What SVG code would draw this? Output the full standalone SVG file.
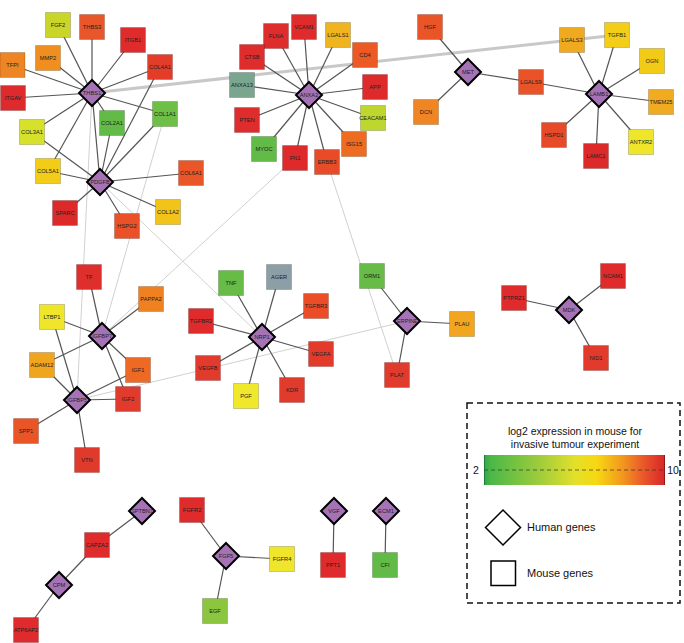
<svg xmlns="http://www.w3.org/2000/svg" xmlns:xlink="http://www.w3.org/1999/xlink" width="684" height="643" viewBox="0 0 684 643">
<style>
.e{stroke:#555;stroke-width:1.2}
.l{stroke:#d0d0d0;stroke-width:1}
.t{stroke:#c8c8c8;stroke-width:3}
.m rect{stroke:rgba(0,0,0,0.18);stroke-width:1}
.h use{fill:#a573b5;stroke:#000;stroke-width:2}
text{font-family:"Liberation Sans",Arial,sans-serif;font-size:5.7px;text-anchor:middle;fill:#222}
.lg{font-size:10.5px;fill:#111}
.ll{font-size:11px;text-anchor:start;fill:#111}
</style>
<defs>
<path id="dia" d="M0,-13L13,0L0,13L-13,0Z"/>
<clipPath id="dc"><rect x="-9.6" y="-13" width="19.2" height="26"/></clipPath>
<linearGradient id="grad" x1="0" y1="0" x2="1" y2="0">
<stop offset="0" stop-color="#2fa84a"/>
<stop offset="0.04" stop-color="#4cb847"/>
<stop offset="0.3" stop-color="#9ccc3c"/>
<stop offset="0.5" stop-color="#e2e02a"/>
<stop offset="0.62" stop-color="#f7d812"/>
<stop offset="0.76" stop-color="#f39a1e"/>
<stop offset="0.88" stop-color="#e9582a"/>
<stop offset="1" stop-color="#d9252a"/>
</linearGradient>
</defs>
<rect width="684" height="643" fill="#fff"/>
<g id="connectors">
<line class="l" x1="92" y1="93" x2="77" y2="400"/>
<line class="l" x1="165" y1="114" x2="102" y2="336"/>
<line class="l" x1="100" y1="182" x2="262" y2="337"/>
<line class="l" x1="295" y1="158" x2="102" y2="336"/>
<line class="l" x1="327" y1="162" x2="397" y2="375"/>
<line class="l" x1="77" y1="400" x2="407" y2="321"/>
<line class="t" x1="92" y1="93" x2="617" y2="35"/>
<line class="e" x1="92" y1="93" x2="58" y2="25"/>
<line class="e" x1="92" y1="93" x2="92" y2="27"/>
<line class="e" x1="92" y1="93" x2="133" y2="40"/>
<line class="e" x1="92" y1="93" x2="48" y2="58"/>
<line class="e" x1="92" y1="93" x2="12" y2="65"/>
<line class="e" x1="92" y1="93" x2="160" y2="67"/>
<line class="e" x1="92" y1="93" x2="13" y2="98"/>
<line class="e" x1="92" y1="93" x2="112" y2="123"/>
<line class="e" x1="92" y1="93" x2="165" y2="114"/>
<line class="e" x1="92" y1="93" x2="32" y2="132"/>
<line class="e" x1="92" y1="93" x2="48" y2="171"/>
<line class="e" x1="92" y1="93" x2="100" y2="182"/>
<line class="e" x1="100" y1="182" x2="32" y2="132"/>
<line class="e" x1="100" y1="182" x2="48" y2="171"/>
<line class="e" x1="100" y1="182" x2="112" y2="123"/>
<line class="e" x1="100" y1="182" x2="165" y2="114"/>
<line class="e" x1="100" y1="182" x2="160" y2="67"/>
<line class="e" x1="100" y1="182" x2="191" y2="173"/>
<line class="e" x1="100" y1="182" x2="65" y2="213"/>
<line class="e" x1="100" y1="182" x2="168" y2="212"/>
<line class="e" x1="100" y1="182" x2="127" y2="226"/>
<line class="e" x1="309" y1="95" x2="304" y2="27"/>
<line class="e" x1="309" y1="95" x2="276" y2="36"/>
<line class="e" x1="309" y1="95" x2="338" y2="35"/>
<line class="e" x1="309" y1="95" x2="252" y2="57"/>
<line class="e" x1="309" y1="95" x2="365" y2="55"/>
<line class="e" x1="309" y1="95" x2="242" y2="85"/>
<line class="e" x1="309" y1="95" x2="375" y2="87"/>
<line class="e" x1="309" y1="95" x2="247" y2="120"/>
<line class="e" x1="309" y1="95" x2="373" y2="118"/>
<line class="e" x1="309" y1="95" x2="264" y2="149"/>
<line class="e" x1="309" y1="95" x2="354" y2="144"/>
<line class="e" x1="309" y1="95" x2="295" y2="158"/>
<line class="e" x1="309" y1="95" x2="327" y2="162"/>
<line class="e" x1="468" y1="72" x2="430" y2="27"/>
<line class="e" x1="468" y1="72" x2="426" y2="112"/>
<line class="e" x1="468" y1="72" x2="531" y2="82"/>
<line class="e" x1="599" y1="94" x2="531" y2="82"/>
<line class="e" x1="599" y1="94" x2="572" y2="40"/>
<line class="e" x1="599" y1="94" x2="617" y2="35"/>
<line class="e" x1="599" y1="94" x2="652" y2="61"/>
<line class="e" x1="599" y1="94" x2="661" y2="102"/>
<line class="e" x1="599" y1="94" x2="641" y2="142"/>
<line class="e" x1="599" y1="94" x2="554" y2="135"/>
<line class="e" x1="599" y1="94" x2="596" y2="156"/>
<line class="e" x1="102" y1="336" x2="89" y2="277"/>
<line class="e" x1="102" y1="336" x2="151" y2="299"/>
<line class="e" x1="102" y1="336" x2="52" y2="317"/>
<line class="e" x1="102" y1="336" x2="42" y2="365"/>
<line class="e" x1="102" y1="336" x2="138" y2="370"/>
<line class="e" x1="102" y1="336" x2="128" y2="399"/>
<line class="e" x1="77" y1="400" x2="52" y2="317"/>
<line class="e" x1="77" y1="400" x2="42" y2="365"/>
<line class="e" x1="77" y1="400" x2="138" y2="370"/>
<line class="e" x1="77" y1="400" x2="128" y2="399"/>
<line class="e" x1="77" y1="400" x2="26" y2="431"/>
<line class="e" x1="77" y1="400" x2="87" y2="460"/>
<line class="e" x1="262" y1="337" x2="231" y2="283"/>
<line class="e" x1="262" y1="337" x2="279" y2="277"/>
<line class="e" x1="262" y1="337" x2="316" y2="306"/>
<line class="e" x1="262" y1="337" x2="201" y2="321"/>
<line class="e" x1="262" y1="337" x2="321" y2="354"/>
<line class="e" x1="262" y1="337" x2="208" y2="368"/>
<line class="e" x1="262" y1="337" x2="246" y2="396"/>
<line class="e" x1="262" y1="337" x2="292" y2="390"/>
<line class="e" x1="407" y1="321" x2="372" y2="276"/>
<line class="e" x1="407" y1="321" x2="462" y2="324"/>
<line class="e" x1="407" y1="321" x2="397" y2="375"/>
<line class="e" x1="569" y1="310" x2="514" y2="298"/>
<line class="e" x1="569" y1="310" x2="613" y2="276"/>
<line class="e" x1="569" y1="310" x2="596" y2="358"/>
<line class="e" x1="142" y1="511" x2="97" y2="545"/>
<line class="e" x1="59" y1="585" x2="97" y2="545"/>
<line class="e" x1="59" y1="585" x2="26" y2="630"/>
<line class="e" x1="226" y1="556" x2="192" y2="510"/>
<line class="e" x1="226" y1="556" x2="282" y2="559"/>
<line class="e" x1="226" y1="556" x2="215" y2="611"/>
<line class="e" x1="334" y1="511" x2="333" y2="565"/>
<line class="e" x1="386" y1="511" x2="385" y2="565"/>
</g>
<g id="mouse-nodes" class="m">
<g id="n-FGF2"><rect x="45.5" y="12.5" width="25" height="25" fill="#c9d629"/><text x="58" y="27">FGF2</text></g>
<g id="n-THBS3"><rect x="79.5" y="14.5" width="25" height="25" fill="#e85629"/><text x="92" y="29">THBS3</text></g>
<g id="n-ITGB1"><rect x="120.5" y="27.5" width="25" height="25" fill="#df2b2b"/><text x="133" y="42">ITGB1</text></g>
<g id="n-MMP2"><rect x="35.5" y="45.5" width="25" height="25" fill="#f08f1f"/><text x="48" y="60">MMP2</text></g>
<g id="n-TFPI"><rect x="0" y="52.5" width="25" height="25" fill="#ee8525"/><text x="12.5" y="67">TFPI</text></g>
<g id="n-COL4A1"><rect x="147.5" y="54.5" width="25" height="25" fill="#e33d2a"/><text x="160" y="69">COL4A1</text></g>
<g id="n-ITGAV"><rect x="0.5" y="85.5" width="25" height="25" fill="#dc2a2d"/><text x="13" y="100">ITGAV</text></g>
<g id="n-COL2A1"><rect x="99.5" y="110.5" width="25" height="25" fill="#62bb46"/><text x="112" y="125">COL2A1</text></g>
<g id="n-COL1A1"><rect x="152.5" y="101.5" width="25" height="25" fill="#6dbf45"/><text x="165" y="116">COL1A1</text></g>
<g id="n-COL3A1"><rect x="19.5" y="119.5" width="25" height="25" fill="#d6e12b"/><text x="32" y="134">COL3A1</text></g>
<g id="n-COL5A1"><rect x="35.5" y="158.5" width="25" height="25" fill="#f3cc18"/><text x="48" y="173">COL5A1</text></g>
<g id="n-COL6A1"><rect x="178.5" y="160.5" width="25" height="25" fill="#ea5627"/><text x="191" y="175">COL6A1</text></g>
<g id="n-SPARC"><rect x="52.5" y="200.5" width="25" height="25" fill="#dc2a2b"/><text x="65" y="215">SPARC</text></g>
<g id="n-COL1A2"><rect x="155.5" y="199.5" width="25" height="25" fill="#f2c319"/><text x="168" y="214">COL1A2</text></g>
<g id="n-HSPG2"><rect x="114.5" y="213.5" width="25" height="25" fill="#ea5128"/><text x="127" y="228">HSPG2</text></g>
<g id="n-VCAM1"><rect x="291.5" y="14.5" width="25" height="25" fill="#df2b2b"/><text x="304" y="29">VCAM1</text></g>
<g id="n-FLNA"><rect x="263.5" y="23.5" width="25" height="25" fill="#df2c2c"/><text x="276" y="38">FLNA</text></g>
<g id="n-LGALS1"><rect x="325.5" y="22.5" width="25" height="25" fill="#f0b51e"/><text x="338" y="37">LGALS1</text></g>
<g id="n-CTSB"><rect x="239.5" y="44.5" width="25" height="25" fill="#df2c2c"/><text x="252" y="59">CTSB</text></g>
<g id="n-CD4"><rect x="352.5" y="42.5" width="25" height="25" fill="#ec5925"/><text x="365" y="57">CD4</text></g>
<g id="n-ANXA13"><rect x="229.5" y="72.5" width="25" height="25" fill="#7aa68f"/><text x="242" y="87">ANXA13</text></g>
<g id="n-APP"><rect x="362.5" y="74.5" width="25" height="25" fill="#df2a2b"/><text x="375" y="89">APP</text></g>
<g id="n-PTEN"><rect x="234.5" y="107.5" width="25" height="25" fill="#df2c2c"/><text x="247" y="122">PTEN</text></g>
<g id="n-CEACAM1"><rect x="360.5" y="105.5" width="25" height="25" fill="#bdd72e"/><text x="373" y="120">CEACAM1</text></g>
<g id="n-MYOC"><rect x="251.5" y="136.5" width="25" height="25" fill="#62bb46"/><text x="264" y="151">MYOC</text></g>
<g id="n-ISG15"><rect x="341.5" y="131.5" width="25" height="25" fill="#ee6b22"/><text x="354" y="146">ISG15</text></g>
<g id="n-FN1"><rect x="282.5" y="145.5" width="25" height="25" fill="#df2a2b"/><text x="295" y="160">FN1</text></g>
<g id="n-ERBB3"><rect x="314.5" y="149.5" width="25" height="25" fill="#e84b28"/><text x="327" y="164">ERBB3</text></g>
<g id="n-HGF"><rect x="417.5" y="14.5" width="25" height="25" fill="#ea5528"/><text x="430" y="29">HGF</text></g>
<g id="n-DCN"><rect x="413.5" y="99.5" width="25" height="25" fill="#f08523"/><text x="426" y="114">DCN</text></g>
<g id="n-LGALS9"><rect x="518.5" y="69.5" width="25" height="25" fill="#ea5328"/><text x="531" y="84">LGALS9</text></g>
<g id="n-LGALS3"><rect x="559.5" y="27.5" width="25" height="25" fill="#f0aa20"/><text x="572" y="42">LGALS3</text></g>
<g id="n-TGFB1"><rect x="604.5" y="22.5" width="25" height="25" fill="#f3cd17"/><text x="617" y="37">TGFB1</text></g>
<g id="n-OGN"><rect x="639.5" y="48.5" width="25" height="25" fill="#f2cb16"/><text x="652" y="63">OGN</text></g>
<g id="n-TMEM25"><rect x="648.5" y="89.5" width="25" height="25" fill="#f0ab21"/><text x="661" y="104">TMEM25</text></g>
<g id="n-ANTXR2"><rect x="628.5" y="129.5" width="25" height="25" fill="#efe52b"/><text x="641" y="144">ANTXR2</text></g>
<g id="n-HSPD1"><rect x="541.5" y="122.5" width="25" height="25" fill="#e64a28"/><text x="554" y="137">HSPD1</text></g>
<g id="n-LAMC1"><rect x="583.5" y="143.5" width="25" height="25" fill="#dc2a2b"/><text x="596" y="158">LAMC1</text></g>
<g id="n-TF"><rect x="76.5" y="264.5" width="25" height="25" fill="#df2f2c"/><text x="89" y="279">TF</text></g>
<g id="n-PAPPA2"><rect x="138.5" y="286.5" width="25" height="25" fill="#f08121"/><text x="151" y="301">PAPPA2</text></g>
<g id="n-LTBP1"><rect x="39.5" y="304.5" width="25" height="25" fill="#efe52b"/><text x="52" y="319">LTBP1</text></g>
<g id="n-ADAM12"><rect x="29.5" y="352.5" width="25" height="25" fill="#f0a51f"/><text x="42" y="367">ADAM12</text></g>
<g id="n-IGF1"><rect x="125.5" y="357.5" width="25" height="25" fill="#ee6923"/><text x="138" y="372">IGF1</text></g>
<g id="n-IGF2"><rect x="115.5" y="386.5" width="25" height="25" fill="#e03b2c"/><text x="128" y="401">IGF2</text></g>
<g id="n-SPP1"><rect x="13.5" y="418.5" width="25" height="25" fill="#ea5528"/><text x="26" y="433">SPP1</text></g>
<g id="n-VTN"><rect x="74.5" y="447.5" width="25" height="25" fill="#e03a2c"/><text x="87" y="462">VTN</text></g>
<g id="n-TNF"><rect x="218.5" y="270.5" width="25" height="25" fill="#66bc46"/><text x="231" y="285">TNF</text></g>
<g id="n-AGER"><rect x="266.5" y="264.5" width="25" height="25" fill="#8c9fa7"/><text x="279" y="279">AGER</text></g>
<g id="n-TGFBR3"><rect x="303.5" y="293.5" width="25" height="25" fill="#ea4d28"/><text x="316" y="308">TGFBR3</text></g>
<g id="n-TGFBR2"><rect x="188.5" y="308.5" width="25" height="25" fill="#df2b2b"/><text x="201" y="323">TGFBR2</text></g>
<g id="n-VEGFA"><rect x="308.5" y="341.5" width="25" height="25" fill="#e23b2b"/><text x="321" y="356">VEGFA</text></g>
<g id="n-VEGFB"><rect x="195.5" y="355.5" width="25" height="25" fill="#e03b2c"/><text x="208" y="370">VEGFB</text></g>
<g id="n-PGF"><rect x="233.5" y="383.5" width="25" height="25" fill="#f0e82a"/><text x="246" y="398">PGF</text></g>
<g id="n-KDR"><rect x="279.5" y="377.5" width="25" height="25" fill="#e03b2c"/><text x="292" y="392">KDR</text></g>
<g id="n-ORM1"><rect x="359.5" y="263.5" width="25" height="25" fill="#66bc46"/><text x="372" y="278">ORM1</text></g>
<g id="n-PLAU"><rect x="449.5" y="311.5" width="25" height="25" fill="#f2a51e"/><text x="462" y="326">PLAU</text></g>
<g id="n-PLAT"><rect x="384.5" y="362.5" width="25" height="25" fill="#e03b2c"/><text x="397" y="377">PLAT</text></g>
<g id="n-PTPRZ1"><rect x="501.5" y="285.5" width="25" height="25" fill="#df2b2b"/><text x="514" y="300">PTPRZ1</text></g>
<g id="n-NCAM1"><rect x="600.5" y="263.5" width="25" height="25" fill="#df2b2b"/><text x="613" y="278">NCAM1</text></g>
<g id="n-NID1"><rect x="583.5" y="345.5" width="25" height="25" fill="#e23b2c"/><text x="596" y="360">NID1</text></g>
<g id="n-CAPZA2"><rect x="84.5" y="532.5" width="25" height="25" fill="#df2b2b"/><text x="97" y="547">CAPZA2</text></g>
<g id="n-ATP6AP2"><rect x="13.5" y="617.5" width="25" height="25" fill="#df2b2b"/><text x="26" y="632">ATP6AP2</text></g>
<g id="n-FGFR2"><rect x="179.5" y="497.5" width="25" height="25" fill="#df2b2b"/><text x="192" y="512">FGFR2</text></g>
<g id="n-FGFR4"><rect x="269.5" y="546.5" width="25" height="25" fill="#efe52b"/><text x="282" y="561">FGFR4</text></g>
<g id="n-EGF"><rect x="202.5" y="598.5" width="25" height="25" fill="#8cc63e"/><text x="215" y="613">EGF</text></g>
<g id="n-PPT1"><rect x="320.5" y="552.5" width="25" height="25" fill="#df2b2b"/><text x="333" y="567">PPT1</text></g>
<g id="n-CFI"><rect x="372.5" y="552.5" width="25" height="25" fill="#62bb46"/><text x="385" y="567">CFI</text></g>
</g>
<g id="human-nodes" class="h">
<g id="n-THBS1" transform="translate(92,93)"><use xlink:href="#dia"/><text y="2" clip-path="url(#dc)">THBS1</text></g>
<g id="n-PDGFB" transform="translate(100,182)"><use xlink:href="#dia"/><text y="2" clip-path="url(#dc)">PDGFB</text></g>
<g id="n-ANXA2" transform="translate(309,95)"><use xlink:href="#dia"/><text y="2" clip-path="url(#dc)">ANXA2</text></g>
<g id="n-MET" transform="translate(468,72)"><use xlink:href="#dia"/><text y="2" clip-path="url(#dc)">MET</text></g>
<g id="n-LAMB1" transform="translate(599,94)"><use xlink:href="#dia"/><text y="2" clip-path="url(#dc)">LAMB1</text></g>
<g id="n-IGFBP7" transform="translate(102,336)"><use xlink:href="#dia"/><text y="2" clip-path="url(#dc)">IGFBP7</text></g>
<g id="n-IGFBP5" transform="translate(77,400)"><use xlink:href="#dia"/><text y="2" clip-path="url(#dc)">IGFBP5</text></g>
<g id="n-NRP1" transform="translate(262,337)"><use xlink:href="#dia"/><text y="2" clip-path="url(#dc)">NRP1</text></g>
<g id="n-SERPINE1" transform="translate(407,321)"><use xlink:href="#dia"/><text y="2" clip-path="url(#dc)">SERPINE1</text></g>
<g id="n-MDK" transform="translate(569,310)"><use xlink:href="#dia"/><text y="2" clip-path="url(#dc)">MDK</text></g>
<g id="n-SPTBN1" transform="translate(142,511)"><use xlink:href="#dia"/><text y="2" clip-path="url(#dc)">SPTBN1</text></g>
<g id="n-CPM" transform="translate(59,585)"><use xlink:href="#dia"/><text y="2" clip-path="url(#dc)">CPM</text></g>
<g id="n-FGF5" transform="translate(226,556)"><use xlink:href="#dia"/><text y="2" clip-path="url(#dc)">FGF5</text></g>
<g id="n-VGF" transform="translate(334,511)"><use xlink:href="#dia"/><text y="2" clip-path="url(#dc)">VGF</text></g>
<g id="n-ECM1" transform="translate(386,511)"><use xlink:href="#dia"/><text y="2" clip-path="url(#dc)">ECM1</text></g>
</g>
<g id="legend">
<rect x="467" y="403" width="213" height="200" fill="none" stroke="#111" stroke-width="1.5" stroke-dasharray="6,4"/>
<text class="lg" x="575" y="435">log2 expression in mouse for</text>
<text class="lg" x="575" y="448">invasive tumour experiment</text>
<rect x="484" y="455" width="181" height="30" fill="url(#grad)"/>
<line x1="484.5" y1="455" x2="484.5" y2="485" stroke="#1e7a34" stroke-width="1"/>
<line x1="664.5" y1="455" x2="664.5" y2="485" stroke="#8a1a1a" stroke-width="1"/>
<line x1="484" y1="470" x2="665" y2="470" stroke="#333" stroke-opacity="0.7" stroke-width="1" stroke-dasharray="4,3"/>
<text class="lg" x="476" y="474">2</text>
<text class="lg" x="673" y="474">10</text>
<path d="M503,510L520.5,527.5L503,545L485.5,527.5Z" fill="#fff" stroke="#000" stroke-width="1.5"/>
<text class="ll" x="527" y="531">Human genes</text>
<rect x="491" y="561" width="24.5" height="24.5" fill="#fff" stroke="#000" stroke-width="1.5"/>
<text class="ll" x="527" y="577">Mouse genes</text>
</g>
</svg>
